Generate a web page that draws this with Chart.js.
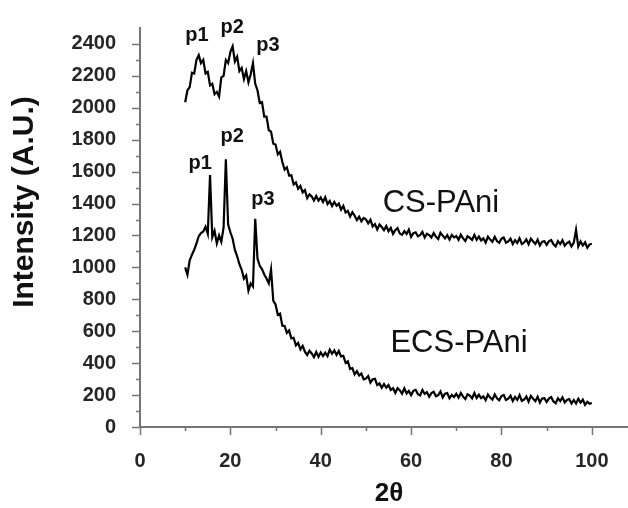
<!DOCTYPE html>
<html>
<head>
<meta charset="utf-8">
<script src="https://cdn.jsdelivr.net/npm/chart.js@4.4.1/dist/chart.umd.min.js"></script>
<style>
  html, body { margin: 0; padding: 0; background: #fff; }
  #wrap { width: 628px; height: 508px; }
</style>
</head>
<body>
<div id="wrap"><canvas id="xrd" width="628" height="508"></canvas></div>
<script>
// 2-theta positions (degrees), shared by both patterns
const twoTheta = [
  10, 10.5, 11, 11.5, 12, 12.5, 13, 13.5, 14, 14.5,
  15, 15.5, 16, 16.5, 17, 17.5, 18, 18.5, 19, 19.5,
  20, 20.5, 21, 21.5, 22, 22.5, 23, 23.5, 24, 24.5,
  25, 25.5, 26, 26.5, 27, 27.5, 28, 28.5, 29, 29.5,
  30, 30.5, 31, 31.5, 32, 32.5, 33, 33.5, 34, 34.5,
  35, 35.5, 36, 36.5, 37, 37.5, 38, 38.5, 39, 39.5,
  40, 40.5, 41, 41.5, 42, 42.5, 43, 43.5, 44, 44.5,
  45, 45.5, 46, 46.5, 47, 47.5, 48, 48.5, 49, 49.5,
  50, 50.5, 51, 51.5, 52, 52.5, 53, 53.5, 54, 54.5,
  55, 55.5, 56, 56.5, 57, 57.5, 58, 58.5, 59, 59.5,
  60, 60.5, 61, 61.5, 62, 62.5, 63, 63.5, 64, 64.5,
  65, 65.5, 66, 66.5, 67, 67.5, 68, 68.5, 69, 69.5,
  70, 70.5, 71, 71.5, 72, 72.5, 73, 73.5, 74, 74.5,
  75, 75.5, 76, 76.5, 77, 77.5, 78, 78.5, 79, 79.5,
  80, 80.5, 81, 81.5, 82, 82.5, 83, 83.5, 84, 84.5,
  85, 85.5, 86, 86.5, 87, 87.5, 88, 88.5, 89, 89.5,
  90, 90.5, 91, 91.5, 92, 92.5, 93, 93.5, 94, 94.5,
  95, 95.5, 96, 96.5, 97, 97.5, 98, 98.5, 99, 99.5,
  100
];

// CS-PAni intensity (A.U.)
const csPAni = [
  2035, 2110, 2130, 2220, 2215, 2300, 2330, 2280, 2300, 2215,
  2225, 2140, 2150, 2085, 2100, 2070, 2190, 2200, 2300, 2280,
  2350, 2385, 2290, 2320, 2230, 2250, 2180, 2230, 2160, 2210,
  2280, 2150, 2110, 2030, 2035, 1945, 1945, 1860, 1850, 1775,
  1770, 1708, 1725, 1660, 1612, 1627, 1575, 1577, 1520, 1533,
  1493, 1510, 1470, 1484, 1434, 1457, 1444, 1419, 1447, 1418,
  1438, 1410, 1440, 1397, 1416, 1384, 1410, 1386, 1400, 1362,
  1386, 1344, 1354, 1318, 1346, 1324, 1296, 1318, 1289, 1310,
  1302, 1276, 1298, 1257, 1271, 1238, 1269, 1253, 1233, 1259,
  1227, 1248, 1210, 1233, 1246, 1212, 1204, 1227, 1209, 1237,
  1192, 1215, 1220, 1195, 1202, 1223, 1187, 1211, 1203, 1187,
  1215, 1192, 1178, 1217, 1199, 1182, 1202, 1175, 1204, 1188,
  1197, 1173, 1205, 1182, 1165, 1196, 1185, 1172, 1204, 1173,
  1193, 1169, 1182, 1155, 1192, 1175, 1160, 1192, 1165, 1154,
  1180, 1187, 1155, 1163, 1180, 1146, 1170, 1153, 1183, 1146,
  1156, 1175, 1145, 1180, 1162, 1147, 1174, 1137, 1161, 1164,
  1141, 1164, 1172, 1145, 1132, 1165, 1146, 1170, 1136, 1152,
  1161, 1131, 1155, 1235, 1131, 1163, 1137, 1157, 1123, 1144,
  1148
];

// ECS-PAni intensity (A.U.)
const ecsPAni = [
  1000, 955, 1045, 1080, 1110, 1150, 1195, 1215, 1225, 1255,
  1210, 1578, 1190, 1230, 1150, 1200, 1160, 1250, 1677, 1270,
  1220, 1180, 1110, 1070, 1020, 985, 930, 950, 855, 900,
  880, 1304, 1056, 1010, 990, 956, 930, 900, 987, 790,
  768, 703, 710, 635, 633, 590, 605, 555, 559, 512,
  527, 487, 508, 472, 451, 478, 461, 438, 470, 440,
  467, 445, 465, 444, 485, 459, 480, 452, 476, 442,
  446, 402, 412, 363, 369, 330, 350, 323, 335, 299,
  304, 319, 278, 299, 302, 263, 273, 246, 269, 247,
  263, 232, 243, 214, 244, 229, 209, 242, 210, 226,
  200, 227, 233, 206, 198, 232, 207, 218, 190, 212,
  221, 193, 200, 223, 185, 209, 213, 180, 201, 188,
  208, 184, 213, 190, 175, 205, 197, 179, 213, 182,
  202, 181, 192, 168, 204, 184, 171, 204, 180, 168,
  194, 201, 170, 178, 196, 163, 188, 170, 200, 164,
  172, 191, 159, 195, 177, 162, 190, 153, 179, 181,
  157, 178, 187, 160, 149, 180, 162, 186, 154, 169,
  175, 147, 169, 147, 177, 153, 171, 139, 158, 145,
  150
];

// axis ticks
const xMajor = [0, 20, 40, 60, 80, 100];
const xMinor = [10, 30, 50, 70, 90];
const yMajor = [0, 200, 400, 600, 800, 1000, 1200, 1400, 1600, 1800, 2000, 2200, 2400];
const yMinor = [100, 300, 500, 700, 900, 1100, 1300, 1500, 1700, 1900, 2100, 2300];

// peak / series labels, placed in data coordinates
const noteText = ['p1', 'p2', 'p3', 'p1', 'p2', 'p3', 'CS-PAni', 'ECS-PAni'];
const noteX    = [12.6, 20.4, 28.3, 13.3, 20.4, 27.2, 66.6, 70.6];
const noteY    = [2450, 2505, 2388, 1648, 1822, 1424, 1399, 522];

const FONT = "'Liberation Sans', Arial, sans-serif";
const axisGray = '#767676';

const pts = (ys) => ys.map((y, i) => ({ x: twoTheta[i], y }));

const sortedTicks = (a, b) => a.concat(b).sort((m, n) => m - n).map(v => ({ value: v }));

const extras = {
  id: 'extras',
  afterDraw(chart) {
    const { ctx, scales: { x, y }, chartArea } = chart;
    ctx.save();
    // outward tick marks
    ctx.strokeStyle = axisGray;
    ctx.lineWidth = 1.5;
    ctx.beginPath();
    x.ticks.forEach(t => {
      const px = Math.round(x.getPixelForValue(t.value)) + 0.5;
      const len = xMajor.includes(t.value) ? 8 : 4;
      ctx.moveTo(px, chartArea.bottom);
      ctx.lineTo(px, chartArea.bottom + len);
    });
    y.ticks.forEach(t => {
      const py = Math.round(y.getPixelForValue(t.value)) + 0.5;
      const len = yMajor.includes(t.value) ? 8 : 4;
      ctx.moveTo(chartArea.left, py);
      ctx.lineTo(chartArea.left - len, py);
    });
    ctx.stroke();

    // annotations
    ctx.fillStyle = '#111';
    ctx.textAlign = 'center';
    ctx.textBaseline = 'middle';
    noteText.forEach((s, i) => {
      const big = s.length > 2;
      ctx.font = big ? `31px ${FONT}` : `bold 20px ${FONT}`;
      ctx.fillText(s, x.getPixelForValue(noteX[i]), y.getPixelForValue(noteY[i]));
    });

    // axis titles
    ctx.font = `bold 26px ${FONT}`;
    ctx.fillText('2θ', 389, 494);
    ctx.translate(25, 202);
    ctx.rotate(-Math.PI / 2);
    ctx.font = `bold 30px ${FONT}`;
    ctx.fillText('Intensity (A.U.)', 0, 0);
    ctx.restore();
  }
};

new Chart(document.getElementById('xrd'), {
  type: 'line',
  data: {
    datasets: [
      { label: 'CS-PAni', data: pts(csPAni) },
      { label: 'ECS-PAni', data: pts(ecsPAni) }
    ]
  },
  options: {
    responsive: false,
    animation: false,
    layout: { padding: { top: 25, right: 0, left: 0, bottom: 0 } },
    elements: {
      line: { borderColor: '#000', borderWidth: 2.2, tension: 0, borderJoinStyle: 'miter' },
      point: { radius: 0 }
    },
    plugins: { legend: { display: false }, tooltip: { enabled: false } },
    scales: {
      x: {
        type: 'linear',
        min: 0,
        max: 108,
        afterBuildTicks: (s) => { s.ticks = sortedTicks(xMajor, xMinor); },
        afterFit: (s) => { s.height = 81; },
        grid: { display: false },
        border: { display: true, color: axisGray, width: 2 },
        ticks: {
          color: '#262626',
          padding: 14,
          maxRotation: 0,
          autoSkip: false,
          font: { family: FONT, size: 20, weight: 'bold' },
          callback: (v) => xMajor.includes(v) ? String(v) : ''
        }
      },
      y: {
        min: 0,
        max: 2500,
        afterBuildTicks: (s) => { s.ticks = sortedTicks(yMajor, yMinor); },
        afterFit: (s) => { s.width = 140; },
        grid: { display: false },
        border: { display: true, color: axisGray, width: 2 },
        ticks: {
          color: '#262626',
          padding: 16,
          autoSkip: false,
          font: { family: FONT, size: 20, weight: 'bold' },
          callback: (v) => yMajor.includes(v) ? String(v) : ''
        }
      }
    }
  },
  plugins: [extras]
});
</script>
</body>
</html>
